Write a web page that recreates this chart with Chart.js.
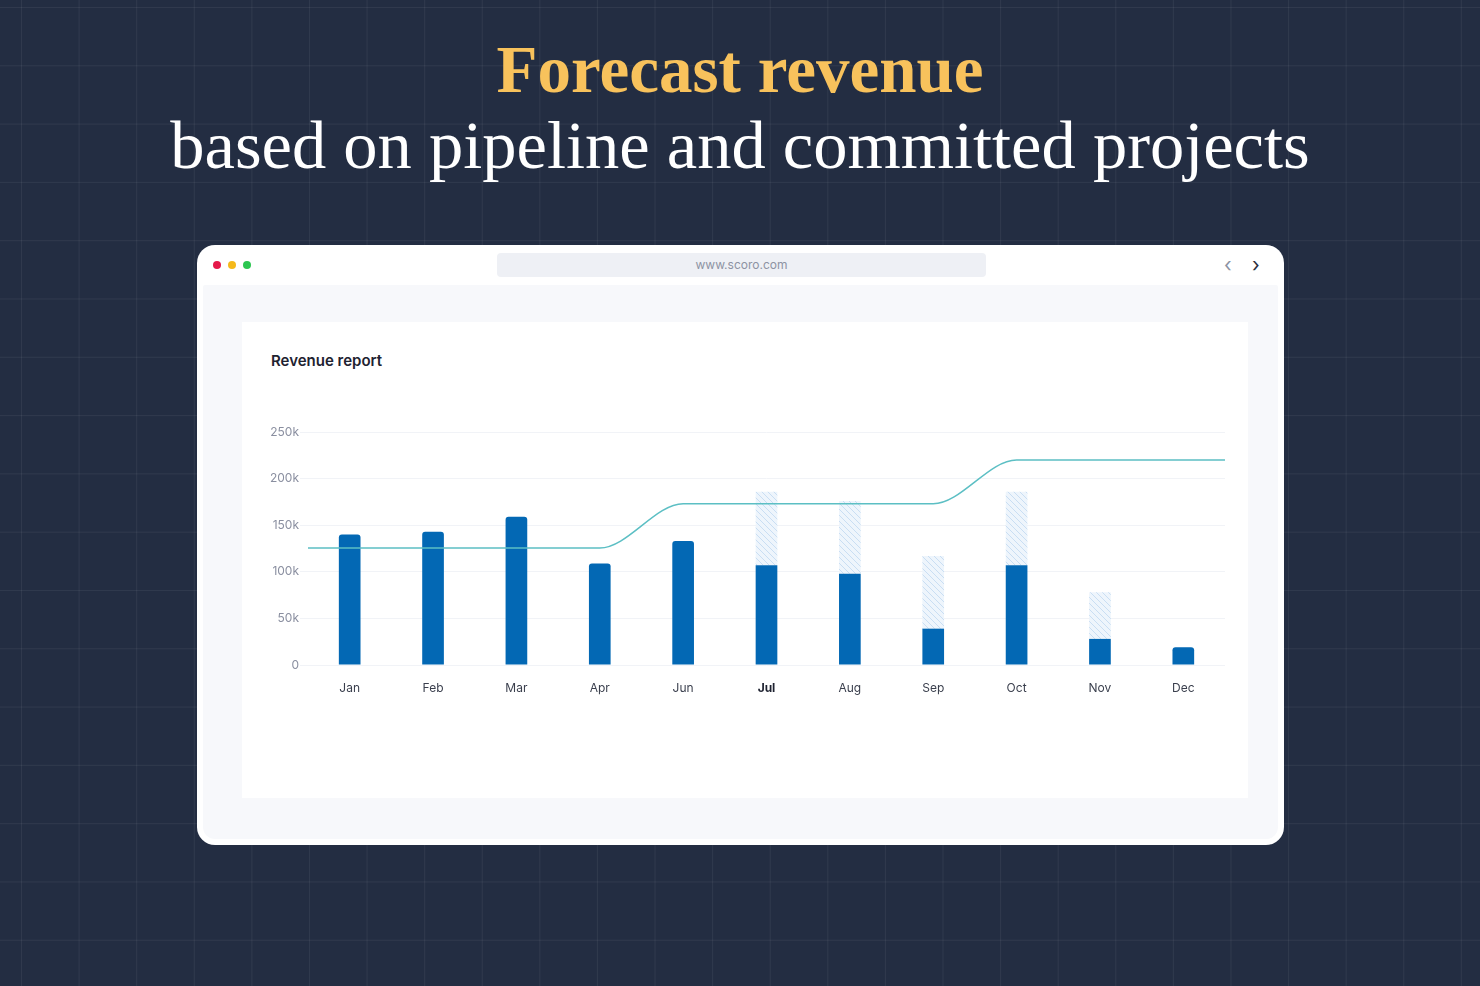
<!DOCTYPE html>
<html>
<head>
<meta charset="utf-8">
<script src="https://cdn.jsdelivr.net/npm/chart.js@4"></script>
<style>
  html, body { margin: 0; padding: 0; }
  body {
    width: 1480px; height: 986px; overflow: hidden; position: relative;
    background-color: #232d42;
    background-image:
      linear-gradient(to right, rgba(255,255,255,0.06) 1px, transparent 1px),
      linear-gradient(to bottom, rgba(255,255,255,0.06) 1px, transparent 1px);
    background-size: 57.6px 58.3px;
    background-position: 21px 7px;
    font-family: Inter, sans-serif;
  }
  .h1, .h2 { position: absolute; left: 0; width: 1480px; text-align: center; font-family: "Liberation Serif", serif; }
  .h1 { top: 31px; font-size: 67px; font-weight: bold; color: #f8c25c; }
  .h2 { top: 106px; font-size: 68.5px; color: #ffffff; }
  .win { position: absolute; left: 197px; top: 245px; width: 1087px; height: 600px; background: #fff; border-radius: 18px; overflow: hidden; }
  .inner { position: absolute; left: 6px; top: 40px; width: 1075px; height: 554px; background: #f7f8fb; border-radius: 2px 2px 12px 12px; }
  .dot { position: absolute; top: 16px; width: 8px; height: 8px; border-radius: 50%; }
  .url { position: absolute; left: 300px; top: 8px; width: 489px; height: 24px; background: #eef0f5; border-radius: 4px; color: #8d93a3; font-size: 12px; text-align: center; line-height: 24px; }
  .arr { position: absolute; top: 8px; font-size: 20px; color: #2a2f3d; line-height: 24px; }
  .card { position: absolute; left: 242px; top: 322px; width: 1006px; height: 476px; background: #fff; }
  .title { position: absolute; left: 271px; top: 351px; font-size: 15px; font-weight: 600; color: #1e2230; }
  .chart { position: absolute; left: 252px; top: 420px; width: 988px; height: 290px; }
</style>
</head>
<body>
<div class="h1">Forecast revenue</div>
<div class="h2">based on pipeline and committed projects</div>
<div class="win">
  <div class="dot" style="left:16px;background:#e5194a"></div>
  <div class="dot" style="left:31px;background:#f5b91b"></div>
  <div class="dot" style="left:46px;background:#2cc650"></div>
  <div class="url">www.scoro.com</div>
  <div class="arr" style="left:1027px;color:#8d93a3">&#8249;</div>
  <div class="arr" style="left:1055px">&#8250;</div>
  <div class="inner"></div>
</div>
<div class="card"></div>
<div class="title">Revenue report</div>
<div class="chart"><canvas id="c"></canvas></div>
<script>
const months = ['Jan', 'Feb', 'Mar', 'Apr', 'Jun', 'Jul', 'Aug', 'Sep', 'Oct', 'Nov', 'Dec']
const committed = [140, 143, 159, 109, 133, 107, 98, 39, 107, 28, 19]
const forecastTotal = [140, 143, 159, 109, 133, 186, 176, 117, 186, 78, 19]
const targetX = [-0.5, 0, 1, 2, 3, 4, 5, 6, 7, 8, 9, 10, 10.5]
const targetY = [125.5, 125.5, 125.5, 125.5, 125.5, 173, 173, 173, 173, 220, 220, 220, 220]
const yTicks = [0, 50, 100, 150, 200, 250]

const pipeline = forecastTotal.map((t, i) => t - committed[i])

function hatch() {
    const p = document.createElement('canvas')
    p.width = 6; p.height = 6
    const g = p.getContext('2d')
    g.fillStyle = '#eef5fc'
    g.fillRect(0, 0, 6, 6)
    g.strokeStyle = '#c9def3'
    g.lineWidth = 1
    g.beginPath()
    g.moveTo(0, 0); g.lineTo(6, 6)
    g.moveTo(-3, 3); g.lineTo(3, 9)
    g.moveTo(3, -3); g.lineTo(9, 3)
    g.stroke()
    return g.createPattern(p, 'repeat')
}

new Chart(document.getElementById('c').getContext('2d'), {
    data: {
        labels: months,
        datasets: [
            {
                type: 'line',
                data: targetX.map((x, i) => ({ x, y: targetY[i] })),
                xAxisID: 'x2',
                borderColor: '#5cbfc4',
                borderWidth: 1.5,
                pointRadius: 0,
                cubicInterpolationMode: 'monotone',
                order: 0
            },
            {
                type: 'bar',
                data: committed,
                backgroundColor: '#0368b4',
                grouped: false,
                barPercentage: 0.26,
                categoryPercentage: 1,
                borderSkipped: false,
                borderRadius: ctx => pipeline[ctx.dataIndex] > 0 ? 0 : { topLeft: 3, topRight: 3 },
                order: 1
            },
            {
                type: 'bar',
                data: pipeline,
                backgroundColor: hatch(),
                grouped: false,
                barPercentage: 0.26,
                categoryPercentage: 1,
                order: 2
            }
        ]
    },
    options: {
        responsive: true,
        maintainAspectRatio: false,
        animation: false,
        layout: { padding: { top: 12, right: 15 } },
        plugins: { legend: { display: false }, tooltip: { enabled: false } },
        scales: {
            x: {
                stacked: true,
                grid: { display: false },
                border: { display: false },
                ticks: {
                    padding: 8,
                    color: ctx => ctx.index === 5 ? '#1e2230' : '#3a3f4d',
                    font: ctx => ({ family: 'Inter', size: 12, weight: ctx.index === 5 ? 'bold' : 'normal' })
                },
                afterFit: s => { s.height = 45 }
            },
            x2: { type: 'linear', display: false, min: -0.5, max: 10.5 },
            y: {
                stacked: true,
                min: 0, max: 250,
                afterBuildTicks: s => { s.ticks = yTicks.map(v => ({ value: v })) },
                grid: { color: '#f1f3f7' },
                border: { display: false },
                ticks: {
                    color: '#8a8fa0',
                    padding: 1,
                    font: { family: 'Inter', size: 12 },
                    callback: v => v === 0 ? '0' : v + 'k'
                },
                afterFit: s => { s.width = 56 }
            }
        }
    }
})
</script>
</body>
</html>
